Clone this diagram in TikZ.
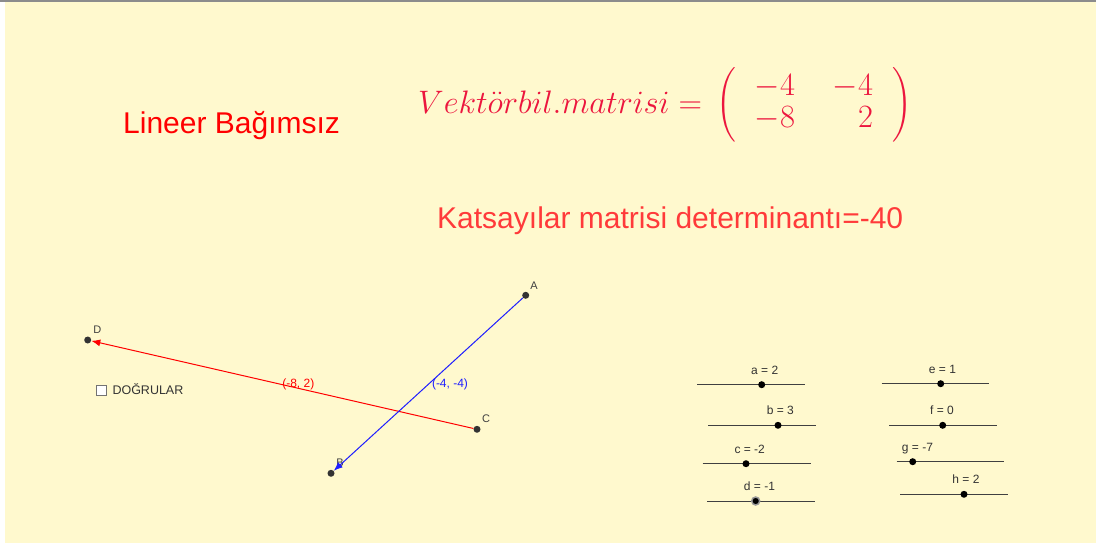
\documentclass[tikz,border=0pt]{standalone}
\usepackage{fix-cm}
\usepackage[no-math]{fontspec}
\setmainfont{Liberation Sans}
\usepackage{amsmath}
\usetikzlibrary{arrows.meta,positioning}

\definecolor{ggbyellow}{RGB}{255,249,206}
\definecolor{matred}{RGB}{236,22,62}
\definecolor{detred}{RGB}{255,58,58}
\definecolor{vecblue}{RGB}{30,30,255}

\tikzstyle{pt} = [circle, fill=black!80, inner sep=0pt, minimum size=7pt]
\tikzstyle{ptlabel} = [anchor=base, inner sep=0pt, text=black!75, font=\fontsize{11}{13}\selectfont]
\tikzstyle{vec} = [line width=1pt, -{Latex[length=9pt,width=7pt]}]
\tikzstyle{veclabel} = [inner sep=0pt, font=\fontsize{12}{14}\selectfont]
\tikzstyle{slider} = [line width=1pt, draw=black!75]
\tikzstyle{knob} = [circle, fill=black, inner sep=0pt, minimum size=7pt]
\tikzstyle{sliderlabel} = [anchor=base, inner sep=0pt, text=black!80, font=\fontsize{12}{14}\selectfont]

\begin{document}
\begin{tikzpicture}[x=1pt, y=-1pt]
\useasboundingbox (0,0) rectangle (1096,544);
\fill[white] (0,0) rectangle (1096,544);
\fill[ggbyellow] (5,2) rectangle (1096,543);
\draw[black!45, line width=1.5pt] (0,1) -- (1096,1);

% texts
\node (title) [anchor=base west, inner sep=0pt, text=red, font=\fontsize{30}{36}\selectfont] at (123,133.3) {Lineer Bağımsız};
\node (vecmat) [anchor=west, inner sep=0pt, text=matred, font=\fontsize{32.5}{32}\selectfont] at (418,105)
{\setlength{\arraycolsep}{19pt}$Vekt\ddot{o}rbil.matrisi = \hspace{5pt}\left(\begin{array}{rr} -4\rule{0pt}{27pt} & -4 \\ -8 & 2\rule[-14pt]{0pt}{14pt} \end{array}\right)$};
\node (det) [anchor=base west, inner sep=0pt, text=detred, font=\fontsize{30}{36}\selectfont] at (437,228.3) {Katsayılar matrisi determinantı=-40};

% points and vectors
\node (A) [pt] at (525.7,295.3) {};
\node (B) [pt] at (331,473.3) {};
\node (C) [pt] at (477,429.3) {};
\node (D) [pt] at (87.7,340) {};
\node (A label) [ptlabel] at (534,289) {A};
\node (B label) [ptlabel] at (340,466.5) {B};
\node (C label) [ptlabel] at (486,422) {C};
\node (D label) [ptlabel] at (97.3,333) {D};
\draw [vec, red] (C) -- (D);
\draw [vec, vecblue] (A) -- (B);
\node (CD label) [veclabel, text=red] at (298.3,384) {(-8, 2)};
\node (AB label) [veclabel, text=vecblue] at (450,384) {(-4, -4)};

% checkbox
\node (chk) [draw=black!55, fill=white, minimum size=10.5pt, inner sep=0pt] at (101,390.3) {};
\node (chk label) [anchor=base west, inner sep=0pt, text=black!80, font=\fontsize{12.5}{15}\selectfont] at (112.3,394) {DOĞRULAR};

% sliders
\draw [slider] (697.3,384.7) -- (805,384.7);
\node (a knob) [knob] at (761.7,384.7) {};
\node (a label) [sliderlabel] at (764.7,374.2) {a = 2};
\draw [slider] (708.3,425.3) -- (816,425.3);
\node (b knob) [knob] at (778,425.3) {};
\node (b label) [sliderlabel] at (780.3,414.8) {b = 3};
\draw [slider] (702.7,463.7) -- (810.7,463.7);
\node (c knob) [knob] at (746,463.7) {};
\node (c label) [sliderlabel] at (749.7,453.2) {c = -2};
\draw [slider] (707.3,501) -- (814.7,501);
\node (d knob) [knob, draw=black!40, line width=1.5pt, minimum size=8pt] at (755.7,501) {};
\node (d label) [sliderlabel] at (759.5,490.5) {d = -1};
\draw [slider] (881.7,383.7) -- (989.3,383.7);
\node (e knob) [knob] at (940.7,383.7) {};
\node (e label) [sliderlabel] at (942.5,373.2) {e = 1};
\draw [slider] (889,425.3) -- (996.7,425.3);
\node (f knob) [knob] at (942.7,425.3) {};
\node (f label) [sliderlabel] at (942,414.8) {f = 0};
\draw [slider] (896.7,461.7) -- (1004.3,461.7);
\node (g knob) [knob] at (912.7,461.7) {};
\node (g label) [sliderlabel] at (917.5,451.2) {g = -7};
\draw [slider] (900,494.3) -- (1007.7,494.3);
\node (h knob) [knob] at (964,494.3) {};
\node (h label) [sliderlabel] at (966,483.8) {h = 2};
\end{tikzpicture}
\end{document}
